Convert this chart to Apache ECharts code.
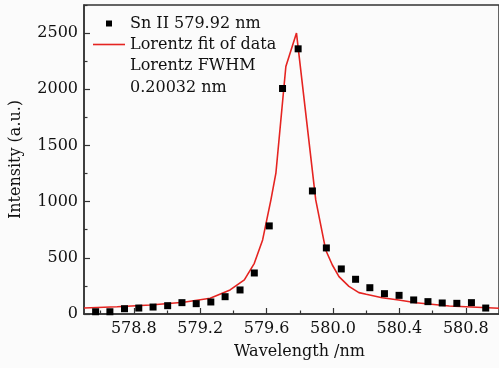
<!DOCTYPE html>
<html>
<head>
<meta charset="utf-8">
<script src="https://cdn.jsdelivr.net/npm/echarts@6/dist/echarts.min.js"></script>
<style>
  html, body { margin: 0; padding: 0; background: #fbfbfb; }
  #chart { width: 499px; height: 368px; }
</style>
</head>
<body>
<div id="chart"></div>
<script>
// measured points (Sn II line)
const wavelengths = [578.57, 578.656, 578.744, 578.83, 578.916, 579.004, 579.09, 579.176, 579.264, 579.35,
  579.44, 579.526, 579.616, 579.696, 579.79, 579.876, 579.96, 580.05, 580.136, 580.222,
  580.31, 580.398, 580.486, 580.572, 580.658, 580.746, 580.834, 580.92];
const intensities = [20, 20, 47, 53, 62, 74, 101, 92, 107, 154,
  214, 365, 784, 2007, 2360, 1095, 588, 401, 309, 234,
  181, 166, 125, 110, 98, 95, 101, 53];

// Lorentz fit curve
const fitX = [578.5, 578.7, 578.9, 579.1, 579.26, 579.38, 579.466, 579.526, 579.576, 579.626,
  579.656, 579.716, 579.78, 579.896, 579.956, 579.996, 580.036, 580.096, 580.156, 580.2,
  580.296, 580.396, 580.5, 580.7, 581.0];
const fitY = [53, 65, 80, 104, 140, 214, 303, 451, 659, 1015,
  1253, 2203, 2500, 1015, 570, 436, 332, 246, 190, 175,
  145, 125, 100, 71, 51];

const xTicks = [578.8, 579.2, 579.6, 580.0, 580.4, 580.8];
const xMinorTicks = [578.6, 579.0, 579.4, 579.8, 580.2, 580.6, 581.0];
const yTicks = [0, 500, 1000, 1500, 2000, 2500];
const yMinorTicks = [250, 750, 1250, 1750, 2250, 2750];

const font = 'DejaVu Serif';
const axisColor = '#333';
const red = '#e52421';

const chart = echarts.init(document.getElementById('chart'));

const baseX = {
  type: 'value',
  min: 578.5,
  max: 581.0,
  splitLine: { show: false },
  axisLine: { onZero: false, lineStyle: { color: axisColor, width: 1.5 } }
};
const baseY = {
  type: 'value',
  min: 0,
  max: 2750,
  splitLine: { show: false },
  axisLine: { onZero: false, lineStyle: { color: axisColor, width: 1.5 } }
};

chart.setOption({
  animation: false,
  backgroundColor: '#fbfbfb',
  grid: {
    left: 84, top: 5, width: 418, bottom: 54,
    show: true, borderColor: axisColor, borderWidth: 1.5, backgroundColor: 'transparent'
  },
  title: {
    text: 'Lorentz FWHM\n0.20032 nm',
    left: 130, top: 55, padding: 0,
    textStyle: { fontFamily: font, fontSize: 16, fontWeight: 'normal', color: '#111', lineHeight: 21.6 }
  },
  legend: {
    orient: 'vertical',
    left: 93, top: 13, padding: 0,
    itemWidth: 32, itemHeight: 6, itemGap: 0,
    textStyle: { fontFamily: font, fontSize: 16, color: '#111', lineHeight: 21 },
    data: [
      { name: 'Sn II 579.92 nm', icon: 'path://M0,0H10V10H0Z', itemStyle: { color: '#000' } },
      { name: 'Lorentz fit of data', icon: 'path://M0,0H40V2H0Z', itemStyle: { color: red } }
    ]
  },
  xAxis: [
    Object.assign({}, baseX, {
      position: 'bottom',
      name: 'Wavelength /nm',
      nameLocation: 'middle',
      nameGap: 30,
      nameTextStyle: { fontFamily: font, fontSize: 16, color: '#111', padding: [0, 0, 0, 16] },
      axisTick: { inside: true, length: 6, customValues: xTicks, lineStyle: { color: axisColor, width: 1.2 } },
      axisLabel: {
        customValues: xTicks, margin: 7,
        fontFamily: font, fontSize: 16, color: '#111',
        formatter: v => v.toFixed(1)
      }
    }),
    Object.assign({}, baseX, {
      position: 'bottom',
      axisLine: { show: false },
      axisTick: { inside: true, length: 3.5, customValues: xMinorTicks, lineStyle: { color: axisColor, width: 1.2 } },
      axisLabel: { show: false }
    })
  ],
  yAxis: [
    Object.assign({}, baseY, {
      position: 'left',
      name: 'Intensity (a.u.)',
      nameLocation: 'middle',
      nameGap: 60,
      nameTextStyle: { fontFamily: font, fontSize: 16, color: '#111' },
      axisTick: { inside: true, length: 6, customValues: yTicks, lineStyle: { color: axisColor, width: 1.2 } },
      axisLabel: {
        customValues: yTicks, margin: 6,
        fontFamily: font, fontSize: 16, color: '#111',
        formatter: v => String(v)
      }
    }),
    Object.assign({}, baseY, {
      position: 'left',
      axisLine: { show: false },
      axisTick: { inside: true, length: 3.5, customValues: yMinorTicks, lineStyle: { color: axisColor, width: 1.2 } },
      axisLabel: { show: false }
    })
  ],
  series: [
    {
      name: 'Sn II 579.92 nm',
      type: 'scatter',
      symbol: 'rect',
      symbolSize: 7,
      itemStyle: { color: '#000', opacity: 1 },
      data: wavelengths.map((x, i) => [x, intensities[i]]),
      z: 3
    },
    {
      name: 'Lorentz fit of data',
      type: 'line',
      symbol: 'none',
      smooth: false,
      lineStyle: { color: red, width: 1.6 },
      itemStyle: { color: red },
      data: fitX.map((x, i) => [x, fitY[i]]),
      z: 2
    }
  ]
});
</script>
</body>
</html>
